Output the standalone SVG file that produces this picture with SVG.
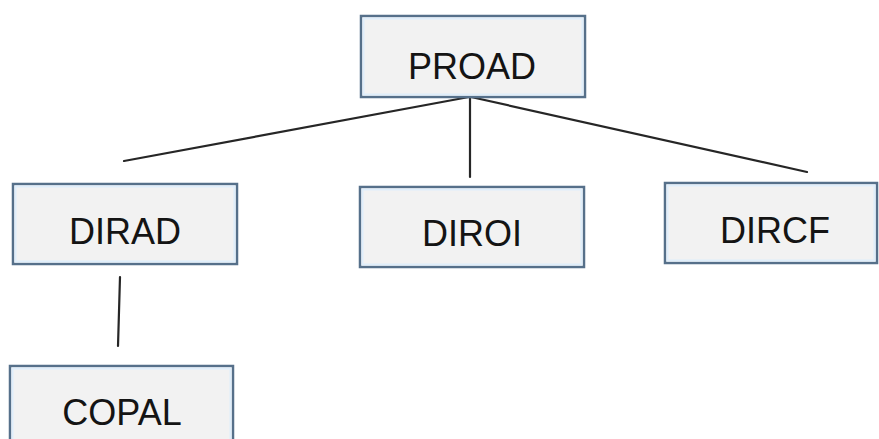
<svg xmlns="http://www.w3.org/2000/svg" width="879" height="439" viewBox="0 0 879 439">
<style>
.box{fill:#f2f2f2;stroke:#56708a;stroke-width:2.5}
.inner{fill:none;stroke:#dfeefb;stroke-width:2}
.lbl{font-family:"Liberation Sans",Arial,sans-serif;font-size:36px;fill:#141414;text-anchor:middle}
.ln{stroke:#262626;stroke-width:2.2;fill:none;stroke-linecap:round}
</style>
<rect width="879" height="439" fill="#ffffff"/>
<g id="connectors">
<line class="ln" x1="469" y1="97" x2="124" y2="161"/>
<line class="ln" x1="470" y1="97" x2="470" y2="177"/>
<line class="ln" x1="471" y1="97" x2="807" y2="172"/>
<line class="ln" x1="120" y1="277" x2="118" y2="346"/>
</g>
<g id="PROAD">
<rect class="box" x="361" y="16" width="224" height="81"/>
<rect class="inner" x="363.5" y="18.5" width="219" height="76"/>
<text class="lbl" x="472" y="79">PROAD</text>
</g>
<g id="DIRAD">
<rect class="box" x="13" y="184" width="224" height="80"/>
<rect class="inner" x="15.5" y="186.5" width="219" height="75"/>
<text class="lbl" x="125" y="244">DIRAD</text>
</g>
<g id="DIROI">
<rect class="box" x="360" y="187" width="224" height="80"/>
<rect class="inner" x="362.5" y="189.5" width="219" height="75"/>
<text class="lbl" x="472" y="246">DIROI</text>
</g>
<g id="DIRCF">
<rect class="box" x="665" y="183" width="212" height="80"/>
<rect class="inner" x="667.5" y="185.5" width="207" height="75"/>
<text class="lbl" x="775" y="243">DIRCF</text>
</g>
<g id="COPAL">
<rect class="box" x="10" y="366" width="223" height="80"/>
<rect class="inner" x="12.5" y="368.5" width="218" height="75"/>
<text class="lbl" x="122" y="425">COPAL</text>
</g>
</svg>
